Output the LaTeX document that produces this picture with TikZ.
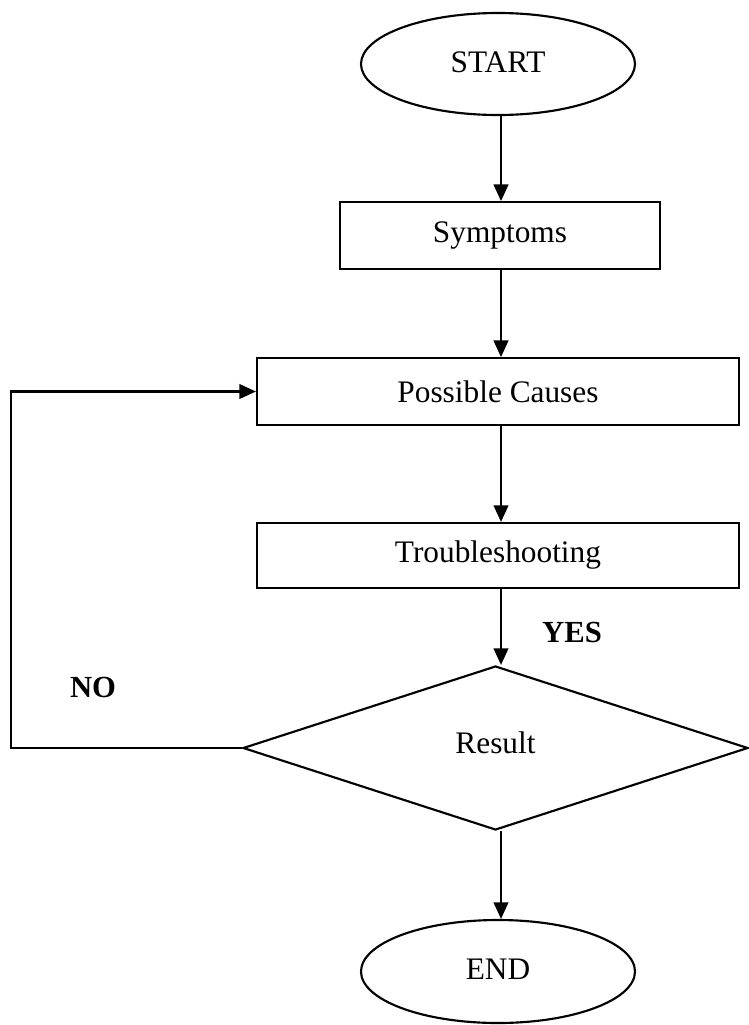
\documentclass[tikz,border=0pt]{standalone}
\usepackage{fontspec}
\setmainfont{Liberation Serif}
\usetikzlibrary{shapes.geometric,arrows.meta}
\begin{document}
\begin{tikzpicture}[x=0.75pt,y=-0.75pt,
  every node/.style={font=\fontsize{23.5}{27}\selectfont},
  lbl/.style={font=\fontsize{23}{27}\selectfont\bfseries},
  arr/.style={line width=1.6pt,-{Triangle[length=12.5pt,width=11pt]}},
  term/.style={draw,line width=1.6pt,ellipse,inner sep=0pt},
  box/.style={draw,line width=1.6pt,rectangle,inner sep=0pt}]
\useasboundingbox (0,0) rectangle (749,1025);
\node[term,minimum width=205.5pt,minimum height=76.5pt] (start) at (498,64) {\raisebox{3pt}{START}};
\node[box,minimum width=240pt,minimum height=50pt] (sym) at (500,235.5) {Symptoms};
\node[box,minimum width=361.5pt,minimum height=50pt] (pc) at (498,391.5) {Possible Causes};
\node[box,minimum width=361.5pt,minimum height=48.75pt] (ts) at (498,555.5) {Troubleshooting};
\node[draw,line width=1.6pt,diamond,minimum width=378.75pt,minimum height=123pt,inner sep=0pt,aspect=3] (res) at (495.5,748) {\raisebox{8pt}{Result}};
\node[term,minimum width=205.5pt,minimum height=77.25pt] (end) at (498,971.5) {\raisebox{3pt}{END}};
\coordinate (c1) at (11,748);
\coordinate (c2) at (11,391.5);
\draw[arr] (start.south -| 501,0) -- (sym.north -| 501,0);
\draw[arr] (sym.south -| 501,0) -- (pc.north -| 501,0);
\draw[arr] (pc.south -| 501,0) -- (ts.north -| 501,0);
\draw[arr] (ts.south -| 501,0) -- (res.north -| 501,0);
\draw[arr] (res.south -| 501,0) -- (end.north -| 501,0);
\draw[arr] (res.west) -- (c1) -- (c2) -- (pc.west);
\node[lbl] (yes) at (572,632) {YES};
\node[lbl] (no) at (93,687) {NO};
\end{tikzpicture}
\end{document}
